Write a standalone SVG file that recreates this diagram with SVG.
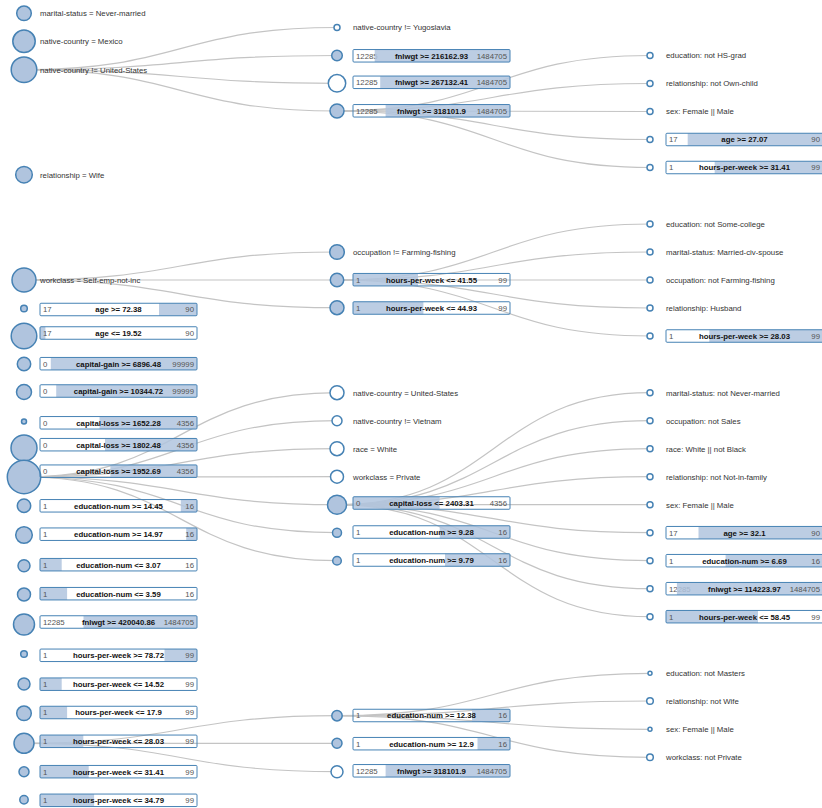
<svg xmlns="http://www.w3.org/2000/svg" width="822" height="808" viewBox="0 0 822 808">
<style>
.c{fill:#b0c4de;stroke:#4682b4;stroke-width:1.5}
.h{fill:#fff;stroke:#4682b4;stroke-width:1.5}
.fl{fill:#b0c4de;fill-opacity:0.85}
.bd{fill:none;stroke:#4682b4;stroke-width:1}
text{font-family:"Liberation Sans",Arial,sans-serif;font-size:7.8px;fill:#333}
.lb{font-weight:bold;fill:#111;text-anchor:middle}
.n{fill:#555}
.mx{fill:#555;text-anchor:end}
.lk{fill:none;stroke:#c4c4c4;stroke-width:1.2}
</style>
<rect width="822" height="808" fill="#fff"/>
<g id="links" class="lk">
<path d="M24,69.7C180.5,69.7 180.5,27.5 337,27.5"/>
<path d="M24,69.7C180.5,69.7 180.5,55.5 337,55.5"/>
<path d="M24,69.7C180.5,69.7 180.5,83.3 337,83.3"/>
<path d="M24,69.7C180.5,69.7 180.5,111 337,111"/>
<path d="M337,111C493.5,111 493.5,55.5 650,55.5"/>
<path d="M337,111C493.5,111 493.5,83.5 650,83.5"/>
<path d="M337,111C493.5,111 493.5,111.5 650,111.5"/>
<path d="M337,111C493.5,111 493.5,139.5 650,139.5"/>
<path d="M337,111C493.5,111 493.5,167.5 650,167.5"/>
<path d="M24,280C180.5,280 180.5,252 337,252"/>
<path d="M24,280C180.5,280 180.5,280 337,280"/>
<path d="M24,280C180.5,280 180.5,307.7 337,307.7"/>
<path d="M337,280C493.5,280 493.5,224 650,224"/>
<path d="M337,280C493.5,280 493.5,252 650,252"/>
<path d="M337,280C493.5,280 493.5,280 650,280"/>
<path d="M337,280C493.5,280 493.5,308 650,308"/>
<path d="M337,280C493.5,280 493.5,336 650,336"/>
<path d="M24,477C180.5,477 180.5,392.7 337,392.7"/>
<path d="M24,477C180.5,477 180.5,420.7 337,420.7"/>
<path d="M24,477C180.5,477 180.5,448.7 337,448.7"/>
<path d="M24,477C180.5,477 180.5,476.7 337,476.7"/>
<path d="M24,477C180.5,477 180.5,504.7 337,504.7"/>
<path d="M24,477C180.5,477 180.5,532.7 337,532.7"/>
<path d="M24,477C180.5,477 180.5,560.7 337,560.7"/>
<path d="M337,504.7C493.5,504.7 493.5,392.7 650,392.7"/>
<path d="M337,504.7C493.5,504.7 493.5,420.7 650,420.7"/>
<path d="M337,504.7C493.5,504.7 493.5,448.7 650,448.7"/>
<path d="M337,504.7C493.5,504.7 493.5,476.7 650,476.7"/>
<path d="M337,504.7C493.5,504.7 493.5,504.7 650,504.7"/>
<path d="M337,504.7C493.5,504.7 493.5,532.7 650,532.7"/>
<path d="M337,504.7C493.5,504.7 493.5,560.7 650,560.7"/>
<path d="M337,504.7C493.5,504.7 493.5,588.7 650,588.7"/>
<path d="M337,504.7C493.5,504.7 493.5,616.7 650,616.7"/>
<path d="M24,743.3C180.5,743.3 180.5,715.7 337,715.7"/>
<path d="M24,743.3C180.5,743.3 180.5,743.3 337,743.3"/>
<path d="M24,743.3C180.5,743.3 180.5,771.7 337,771.7"/>
<path d="M337,715.7C493.5,715.7 493.5,673.3 650,673.3"/>
<path d="M337,715.7C493.5,715.7 493.5,701 650,701"/>
<path d="M337,715.7C493.5,715.7 493.5,729.3 650,729.3"/>
<path d="M337,715.7C493.5,715.7 493.5,757.3 650,757.3"/>
</g>
<g id="nodes">
<g id="n1"><circle class="c" cx="24" cy="13.3" r="7.3"/><text x="40" y="16.1">marital-status = Never-married</text></g>
<g id="n2"><circle class="c" cx="24" cy="41.3" r="11.2"/><text x="40" y="44.1">native-country = Mexico</text></g>
<g id="n3"><circle class="c" cx="24" cy="69.7" r="12.8"/><text x="40" y="72.5">native-country != United-States</text></g>
<g id="n4"><circle class="c" cx="24" cy="174.7" r="8.3"/><text x="40" y="177.5">relationship = Wife</text></g>
<g id="n5"><circle class="c" cx="24" cy="280" r="12"/><text x="40" y="282.8">workclass = Self-emp-not-inc</text></g>
<g id="n6"><circle class="c" cx="24" cy="308.5" r="3.3"/><text class="n" x="43" y="312.3">17</text><rect class="fl" x="159" y="303.25" width="38" height="12.5"/><text class="lb" x="118.5" y="312.3">age &gt;= 72.38</text><text class="mx" x="194" y="312.3">90</text><rect class="bd" x="40" y="303.25" width="157" height="12.5" rx="1"/></g>
<g id="n7"><circle class="c" cx="24" cy="336" r="12.8"/><rect class="fl" x="40" y="326.75" width="5.4" height="12.5"/><text class="n" x="43" y="335.8">17</text><text class="lb" x="118.5" y="335.8">age &lt;= 19.52</text><text class="mx" x="194" y="335.8">90</text><rect class="bd" x="40" y="326.75" width="157" height="12.5" rx="1"/></g>
<g id="n8"><circle class="c" cx="24" cy="364" r="6.7"/><text class="n" x="43" y="366.5">0</text><rect class="fl" x="50.8" y="357.45" width="146.2" height="12.5"/><text class="lb" x="118.5" y="366.5">capital-gain &gt;= 6896.48</text><text class="mx" x="194" y="366.5">99999</text><rect class="bd" x="40" y="357.45" width="157" height="12.5" rx="1"/></g>
<g id="n9"><circle class="c" cx="24" cy="392" r="7.5"/><text class="n" x="43" y="393.8">0</text><rect class="fl" x="56.2" y="384.75" width="140.8" height="12.5"/><text class="lb" x="118.5" y="393.8">capital-gain &gt;= 10344.72</text><text class="mx" x="194" y="393.8">99999</text><rect class="bd" x="40" y="384.75" width="157" height="12.5" rx="1"/></g>
<g id="n10"><circle class="c" cx="24" cy="421.5" r="2.5"/><text class="n" x="43" y="425.6">0</text><rect class="fl" x="99.5" y="416.55" width="97.5" height="12.5"/><text class="lb" x="118.5" y="425.6">capital-loss &gt;= 1652.28</text><text class="mx" x="194" y="425.6">4356</text><rect class="bd" x="40" y="416.55" width="157" height="12.5" rx="1"/></g>
<g id="n11"><circle class="c" cx="24" cy="448" r="13"/><text class="n" x="43" y="447.5">0</text><rect class="fl" x="105" y="438.45" width="92" height="12.5"/><text class="lb" x="118.5" y="447.5">capital-loss &gt;= 1802.48</text><text class="mx" x="194" y="447.5">4356</text><rect class="bd" x="40" y="438.45" width="157" height="12.5" rx="1"/></g>
<g id="n12"><circle class="c" cx="24" cy="477" r="16.7"/><text class="n" x="43" y="474">0</text><rect class="fl" x="110.4" y="464.95" width="86.6" height="12.5"/><text class="lb" x="118.5" y="474">capital-loss &gt;= 1952.69</text><text class="mx" x="194" y="474">4356</text><rect class="bd" x="40" y="464.95" width="157" height="12.5" rx="1"/></g>
<g id="n13"><circle class="c" cx="24" cy="505.8" r="6.7"/><text class="n" x="43" y="508.6">1</text><rect class="fl" x="180.8" y="499.55" width="16.2" height="12.5"/><text class="lb" x="118.5" y="508.6">education-num &gt;= 14.45</text><text class="mx" x="194" y="508.6">16</text><rect class="bd" x="40" y="499.55" width="157" height="12.5" rx="1"/></g>
<g id="n14"><circle class="c" cx="24" cy="535" r="8.3"/><text class="n" x="43" y="537">1</text><rect class="fl" x="186.2" y="527.95" width="10.8" height="12.5"/><text class="lb" x="118.5" y="537">education-num &gt;= 14.97</text><text class="mx" x="194" y="537">16</text><rect class="bd" x="40" y="527.95" width="157" height="12.5" rx="1"/></g>
<g id="n15"><circle class="c" cx="24" cy="565.8" r="6"/><rect class="fl" x="40" y="558.45" width="21.7" height="12.5"/><text class="n" x="43" y="567.5">1</text><text class="lb" x="118.5" y="567.5">education-num &lt;= 3.07</text><text class="mx" x="194" y="567.5">16</text><rect class="bd" x="40" y="558.45" width="157" height="12.5" rx="1"/></g>
<g id="n16"><circle class="c" cx="24" cy="594.5" r="6.5"/><rect class="fl" x="40" y="587.45" width="27.1" height="12.5"/><text class="n" x="43" y="596.5">1</text><text class="lb" x="118.5" y="596.5">education-num &lt;= 3.59</text><text class="mx" x="194" y="596.5">16</text><rect class="bd" x="40" y="587.45" width="157" height="12.5" rx="1"/></g>
<g id="n17"><circle class="c" cx="24" cy="624.5" r="10.5"/><text class="n" x="43" y="624.8">12285</text><rect class="fl" x="83.5" y="615.75" width="113.5" height="12.5"/><text class="lb" x="118.5" y="624.8">fnlwgt &gt;= 420040.86</text><text class="mx" x="194" y="624.8">1484705</text><rect class="bd" x="40" y="615.75" width="157" height="12.5" rx="1"/></g>
<g id="n18"><circle class="c" cx="24" cy="654" r="3.3"/><text class="n" x="43" y="658.1">1</text><rect class="fl" x="164.5" y="649.05" width="32.5" height="12.5"/><text class="lb" x="118.5" y="658.1">hours-per-week &gt;= 78.72</text><text class="mx" x="194" y="658.1">99</text><rect class="bd" x="40" y="649.05" width="157" height="12.5" rx="1"/></g>
<g id="n19"><circle class="c" cx="24" cy="684" r="6"/><rect class="fl" x="40" y="677.95" width="21.7" height="12.5"/><text class="n" x="43" y="687">1</text><text class="lb" x="118.5" y="687">hours-per-week &lt;= 14.52</text><text class="mx" x="194" y="687">99</text><rect class="bd" x="40" y="677.95" width="157" height="12.5" rx="1"/></g>
<g id="n20"><circle class="c" cx="24" cy="713.3" r="7.3"/><rect class="fl" x="40" y="706.25" width="27.1" height="12.5"/><text class="n" x="43" y="715.3">1</text><text class="lb" x="118.5" y="715.3">hours-per-week &lt;= 17.9</text><text class="mx" x="194" y="715.3">99</text><rect class="bd" x="40" y="706.25" width="157" height="12.5" rx="1"/></g>
<g id="n21"><circle class="c" cx="24" cy="743.3" r="10"/><rect class="fl" x="40" y="735.05" width="43.3" height="12.5"/><text class="n" x="43" y="744.1">1</text><text class="lb" x="118.5" y="744.1">hours-per-week &lt;= 28.03</text><text class="mx" x="194" y="744.1">99</text><rect class="bd" x="40" y="735.05" width="157" height="12.5" rx="1"/></g>
<g id="n22"><circle class="c" cx="24" cy="771.7" r="5"/><rect class="fl" x="40" y="765.45" width="48.7" height="12.5"/><text class="n" x="43" y="774.5">1</text><text class="lb" x="118.5" y="774.5">hours-per-week &lt;= 31.41</text><text class="mx" x="194" y="774.5">99</text><rect class="bd" x="40" y="765.45" width="157" height="12.5" rx="1"/></g>
<g id="n23"><circle class="c" cx="24" cy="799.8" r="4.2"/><rect class="fl" x="40" y="794.05" width="54.1" height="12.5"/><text class="n" x="43" y="803.1">1</text><text class="lb" x="118.5" y="803.1">hours-per-week &lt;= 34.79</text><text class="mx" x="194" y="803.1">99</text><rect class="bd" x="40" y="794.05" width="157" height="12.5" rx="1"/></g>
<g id="m1"><circle class="h" cx="337" cy="27.5" r="3"/><text x="353" y="30.3">native-country != Yugoslavia</text></g>
<g id="m2"><circle class="c" cx="337" cy="55.5" r="5.3"/><text class="n" x="356" y="58.6">12285</text><rect class="fl" x="374.7" y="49.55" width="135.3" height="12.5"/><text class="lb" x="431.5" y="58.6">fnlwgt &gt;= 216162.93</text><text class="mx" x="507" y="58.6">1484705</text><rect class="bd" x="353" y="49.55" width="157" height="12.5" rx="1"/></g>
<g id="m3"><circle class="h" cx="337" cy="83.3" r="8.7"/><text class="n" x="356" y="85.1">12285</text><rect class="fl" x="380.2" y="76.05" width="129.8" height="12.5"/><text class="lb" x="431.5" y="85.1">fnlwgt &gt;= 267132.41</text><text class="mx" x="507" y="85.1">1484705</text><rect class="bd" x="353" y="76.05" width="157" height="12.5" rx="1"/></g>
<g id="m4"><circle class="c" cx="337" cy="111" r="7"/><text class="n" x="356" y="113.6">12285</text><rect class="fl" x="385.6" y="104.55" width="124.4" height="12.5"/><text class="lb" x="431.5" y="113.6">fnlwgt &gt;= 318101.9</text><text class="mx" x="507" y="113.6">1484705</text><rect class="bd" x="353" y="104.55" width="157" height="12.5" rx="1"/></g>
<g id="m5"><circle class="c" cx="337" cy="252" r="7.3"/><text x="353" y="254.8">occupation != Farming-fishing</text></g>
<g id="m6"><circle class="c" cx="337" cy="280" r="6.7"/><rect class="fl" x="353" y="273.45" width="65" height="12.5"/><text class="n" x="356" y="282.5">1</text><text class="lb" x="431.5" y="282.5">hours-per-week &lt;= 41.55</text><text class="mx" x="507" y="282.5">99</text><rect class="bd" x="353" y="273.45" width="157" height="12.5" rx="1"/></g>
<g id="m7"><circle class="c" cx="337" cy="307.7" r="7"/><rect class="fl" x="353" y="301.75" width="70.4" height="12.5"/><text class="n" x="356" y="310.8">1</text><text class="lb" x="431.5" y="310.8">hours-per-week &lt;= 44.93</text><text class="mx" x="507" y="310.8">99</text><rect class="bd" x="353" y="301.75" width="157" height="12.5" rx="1"/></g>
<g id="m8"><circle class="h" cx="337" cy="392.7" r="7"/><text x="353" y="395.5">native-country = United-States</text></g>
<g id="m9"><circle class="h" cx="337" cy="420.7" r="5"/><text x="353" y="423.5">native-country != Vietnam</text></g>
<g id="m10"><circle class="h" cx="337" cy="448.7" r="7"/><text x="353" y="451.5">race = White</text></g>
<g id="m11"><circle class="h" cx="337" cy="476.7" r="6.5"/><text x="353" y="479.5">workclass = Private</text></g>
<g id="m12"><circle class="c" cx="337" cy="504.7" r="9.5"/><rect class="fl" x="353" y="496.75" width="86.6" height="12.5"/><text class="n" x="356" y="505.8">0</text><text class="lb" x="431.5" y="505.8">capital-loss &lt;= 2403.31</text><text class="mx" x="507" y="505.8">4356</text><rect class="bd" x="353" y="496.75" width="157" height="12.5" rx="1"/></g>
<g id="m13"><circle class="c" cx="337" cy="532.7" r="4.5"/><text class="n" x="356" y="534.8">1</text><rect class="fl" x="439.7" y="525.75" width="70.3" height="12.5"/><text class="lb" x="431.5" y="534.8">education-num &gt;= 9.28</text><text class="mx" x="507" y="534.8">16</text><rect class="bd" x="353" y="525.75" width="157" height="12.5" rx="1"/></g>
<g id="m14"><circle class="c" cx="337" cy="560.7" r="4.3"/><text class="n" x="356" y="562.8">1</text><rect class="fl" x="445" y="553.75" width="65" height="12.5"/><text class="lb" x="431.5" y="562.8">education-num &gt;= 9.79</text><text class="mx" x="507" y="562.8">16</text><rect class="bd" x="353" y="553.75" width="157" height="12.5" rx="1"/></g>
<g id="m15"><circle class="c" cx="337" cy="715.7" r="5.2"/><text class="n" x="356" y="718.3">1</text><rect class="fl" x="472" y="709.25" width="38" height="12.5"/><text class="lb" x="431.5" y="718.3">education-num &gt;= 12.38</text><text class="mx" x="507" y="718.3">16</text><rect class="bd" x="353" y="709.25" width="157" height="12.5" rx="1"/></g>
<g id="m16"><circle class="c" cx="337" cy="743.3" r="5"/><text class="n" x="356" y="746.5">1</text><rect class="fl" x="477.5" y="737.45" width="32.5" height="12.5"/><text class="lb" x="431.5" y="746.5">education-num &gt;= 12.9</text><text class="mx" x="507" y="746.5">16</text><rect class="bd" x="353" y="737.45" width="157" height="12.5" rx="1"/></g>
<g id="m17"><circle class="h" cx="337" cy="771.7" r="6"/><text class="n" x="356" y="773.6">12285</text><rect class="fl" x="385.6" y="764.55" width="124.4" height="12.5"/><text class="lb" x="431.5" y="773.6">fnlwgt &gt;= 318101.9</text><text class="mx" x="507" y="773.6">1484705</text><rect class="bd" x="353" y="764.55" width="157" height="12.5" rx="1"/></g>
<g id="p1"><circle class="h" cx="650" cy="55.5" r="3"/><text x="666" y="58.3">education: not HS-grad</text></g>
<g id="p2"><circle class="h" cx="650" cy="83.5" r="3"/><text x="666" y="86.3">relationship: not Own-child</text></g>
<g id="p3"><circle class="h" cx="650" cy="111.5" r="3"/><text x="666" y="114.3">sex: Female || Male</text></g>
<g id="p4"><circle class="h" cx="650" cy="139.5" r="3"/><text class="n" x="669" y="142.3">17</text><rect class="fl" x="687.7" y="133.25" width="135.3" height="12.5"/><text class="lb" x="744.5" y="142.3">age &gt;= 27.07</text><text class="mx" x="820" y="142.3">90</text><rect class="bd" x="666" y="133.25" width="157" height="12.5" rx="1"/></g>
<g id="p5"><circle class="h" cx="650" cy="167.5" r="3"/><text class="n" x="669" y="170.3">1</text><rect class="fl" x="714.7" y="161.25" width="108.3" height="12.5"/><text class="lb" x="744.5" y="170.3">hours-per-week &gt;= 31.41</text><text class="mx" x="820" y="170.3">99</text><rect class="bd" x="666" y="161.25" width="157" height="12.5" rx="1"/></g>
<g id="p6"><circle class="h" cx="650" cy="224" r="3"/><text x="666" y="226.8">education: not Some-college</text></g>
<g id="p7"><circle class="h" cx="650" cy="252" r="3"/><text x="666" y="254.8">marital-status: Married-civ-spouse</text></g>
<g id="p8"><circle class="h" cx="650" cy="280" r="3"/><text x="666" y="282.8">occupation: not Farming-fishing</text></g>
<g id="p9"><circle class="h" cx="650" cy="308" r="3"/><text x="666" y="310.8">relationship: Husband</text></g>
<g id="p10"><circle class="h" cx="650" cy="336" r="3"/><text class="n" x="669" y="338.8">1</text><rect class="fl" x="709.3" y="329.75" width="113.7" height="12.5"/><text class="lb" x="744.5" y="338.8">hours-per-week &gt;= 28.03</text><text class="mx" x="820" y="338.8">99</text><rect class="bd" x="666" y="329.75" width="157" height="12.5" rx="1"/></g>
<g id="p11"><circle class="h" cx="650" cy="392.7" r="3"/><text x="666" y="395.5">marital-status: not Never-married</text></g>
<g id="p12"><circle class="h" cx="650" cy="420.7" r="3"/><text x="666" y="423.5">occupation: not Sales</text></g>
<g id="p13"><circle class="h" cx="650" cy="448.7" r="3"/><text x="666" y="451.5">race: White || not Black</text></g>
<g id="p14"><circle class="h" cx="650" cy="476.7" r="3"/><text x="666" y="479.5">relationship: not Not-in-family</text></g>
<g id="p15"><circle class="h" cx="650" cy="504.7" r="3"/><text x="666" y="507.5">sex: Female || Male</text></g>
<g id="p16"><circle class="h" cx="650" cy="532.7" r="3"/><text class="n" x="669" y="535.5">17</text><rect class="fl" x="698.5" y="526.45" width="124.5" height="12.5"/><text class="lb" x="744.5" y="535.5">age &gt;= 32.1</text><text class="mx" x="820" y="535.5">90</text><rect class="bd" x="666" y="526.45" width="157" height="12.5" rx="1"/></g>
<g id="p17"><circle class="h" cx="650" cy="560.7" r="3"/><text class="n" x="669" y="563.5">1</text><rect class="fl" x="725.6" y="554.45" width="97.4" height="12.5"/><text class="lb" x="744.5" y="563.5">education-num &gt;= 6.69</text><text class="mx" x="820" y="563.5">16</text><rect class="bd" x="666" y="554.45" width="157" height="12.5" rx="1"/></g>
<g id="p18"><circle class="h" cx="650" cy="588.7" r="3"/><text class="n" x="669" y="591.5">12285</text><rect class="fl" x="676.9" y="582.45" width="146.1" height="12.5"/><text class="lb" x="744.5" y="591.5">fnlwgt &gt;= 114223.97</text><text class="mx" x="820" y="591.5">1484705</text><rect class="bd" x="666" y="582.45" width="157" height="12.5" rx="1"/></g>
<g id="p19"><circle class="h" cx="650" cy="616.7" r="3"/><rect class="fl" x="666" y="610.45" width="92" height="12.5"/><text class="n" x="669" y="619.5">1</text><text class="lb" x="744.5" y="619.5">hours-per-week &lt;= 58.45</text><text class="mx" x="820" y="619.5">99</text><rect class="bd" x="666" y="610.45" width="157" height="12.5" rx="1"/></g>
<g id="p20"><circle class="h" cx="650" cy="673.3" r="2"/><text x="666" y="676.1">education: not Masters</text></g>
<g id="p21"><circle class="h" cx="650" cy="701" r="3.3"/><text x="666" y="703.8">relationship: not Wife</text></g>
<g id="p22"><circle class="h" cx="650" cy="729.3" r="2"/><text x="666" y="732.1">sex: Female || Male</text></g>
<g id="p23"><circle class="h" cx="650" cy="757.3" r="3.3"/><text x="666" y="760.1">workclass: not Private</text></g>
</g>
</svg>
